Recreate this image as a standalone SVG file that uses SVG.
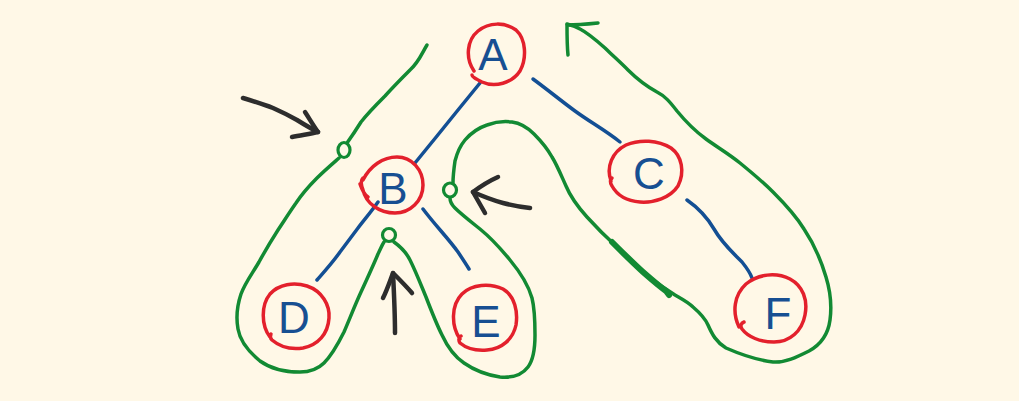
<svg xmlns="http://www.w3.org/2000/svg" width="1019" height="401" viewBox="0 0 1019 401">
<defs>
<style>
.bg{fill:#fff8e7}
.ring{fill:none;stroke:#e3202c;stroke-width:3.5;stroke-linecap:round;stroke-linejoin:round}
.lbl{font-family:"Liberation Sans","DejaVu Sans",sans-serif;font-size:44px;fill:#174f92;text-anchor:middle}
.edge{fill:none;stroke:#134f94;stroke-width:3.5;stroke-linecap:round;stroke-linejoin:round}
.loop{fill:none;stroke:#128a33;stroke-width:3.5;stroke-linecap:round;stroke-linejoin:round}
.thick{fill:none;stroke:#128a33;stroke-width:6;stroke-linecap:round;stroke-linejoin:round}
.dot{fill:none;stroke:#128a33;stroke-width:3.2}
.pointer{fill:none;stroke:#2d2d2d;stroke-width:4.5;stroke-linecap:round;stroke-linejoin:round}
</style>
</defs>
<rect class="bg" x="0" y="0" width="1019" height="401"/>
<g id="connectors">
<path class="edge" d="M480,83 L458,110 L437,136 L415,163"/>
<path class="edge" d="M533,79 C548,90 560,100 575,111 C590,122 605,130 620,142"/>
<path class="edge" d="M687,200 C697,207 707,217 714,229 C722,243 732,252 742,262 C746,267 750,272 752,278"/>
<path class="edge" d="M378,202 C371,212 364,220 358,228 C352,236 346,244 340,252 C333,262 324,272 317,280"/>
<path class="edge" d="M423,209 C429,217 435,224 441,231 C447,238 453,245 458,252 C462,258 466,264 469,269"/>
</g>
<g id="traversal">
<path class="loop" d="M427,45 C422,53 419,62 410,70 C402,78 394,86 385,96 C377,104 368,113 361,122 C356,130 352,136 347,143"/>
<ellipse class="dot" cx="344" cy="150" rx="6" ry="7.5"/>
<path class="loop" d="M339,158 C331,165 324,171 317,178 C309,186 302,194 296,203 C289,213 284,221 278,230 C271,241 265,251 259,262 C252,274 245,283 241,294 C237,306 236,318 238,329 C240,341 249,352 260,361 C271,369 285,372 300,372 C311,372 318,369 324,363 C332,355 338,344 344,332 C350,318 355,305 361,292 C367,279 373,266 378,254 C381,248 382,245 384,242"/>
<ellipse class="dot" cx="389" cy="235" rx="6.5" ry="6.5"/>
<path class="loop" d="M394,242 C401,247 406,252 410,260 C416,272 421,285 426,297 C431,310 436,323 442,335 C448,348 455,357 464,363 C474,370 487,375 500,377 C512,378 522,375 528,367 C534,359 535,348 535,335 C535,322 535,310 532,298 C528,284 520,272 510,260 C501,249 491,238 480,229 C470,221 461,214 455,208 C452,205 450,201 450,198"/>
<ellipse class="dot" cx="450" cy="190" rx="6.5" ry="7"/>
<path class="loop" d="M453,183 C453,175 454,168 455,161 C457,153 460,146 465,140 C471,133 478,128 487,125 C495,122 504,121 512,122 C520,123 527,127 534,134 C541,141 547,148 552,157 C557,165 561,175 566,186 C571,198 578,207 587,217 C596,227 606,237 617,247 C627,257 637,267 648,276 C658,284 667,290 675,295 C682,299 688,302 693,307 C700,313 705,318 708,325 C712,334 716,342 726,348 C742,355 757,360 773,362 C785,363 797,357 809,351 C820,345 828,335 830,320 C832,305 830,290 826,277 C821,260 814,244 804,229 C796,216 785,204 773,192 C762,181 751,172 740,163 C729,154 717,147 706,139 C695,131 686,122 677,111 C670,102 665,96 657,92 C646,86 637,79 628,70 C619,61 612,55 605,48 C596,40 588,33 580,29 C575,26 571,25 567,24"/>
<path class="thick" d="M612,242 C622,252 632,262 643,272 C651,279 659,286 666,291 L669,295"/>
<path class="loop" d="M598,23 C588,24 578,25 567,25 C567,35 567,45 568,55"/>
</g>
<g id="node-A">
<path class="ring" d="M474,71 C465,58 467,40 478,31 C489,22 505,22 516,30 C526,39 527,58 520,71 C512,83 495,88 482,82 C476,79 472,77 472,75"/>
<text class="lbl" x="493" y="70">A</text>
</g>
<g id="node-B">
<path class="ring" d="M363,180 C370,166 383,157 397,157 C412,157 423,170 423,185 C423,201 410,213 395,213 C380,213 366,204 363,190 C361,185 360,181 363,178 M360,184 C362,190 365,195 368,197"/>
<text class="lbl" x="393" y="204">B</text>
</g>
<g id="node-D">
<path class="ring" d="M270,337 C261,325 261,305 270,294 C279,284 294,282 307,286 C322,291 330,305 329,318 C328,334 318,345 303,348 C289,350 279,346 272,340 C270,338 270,336 271,334"/>
<text class="lbl" x="294" y="333">D</text>
</g>
<g id="node-E">
<path class="ring" d="M460,339 C451,326 451,305 462,294 C472,284 490,283 503,289 C515,296 518,312 516,325 C513,339 502,349 487,350 C475,351 466,348 460,343 C458,340 459,337 461,336"/>
<text class="lbl" x="486" y="337">E</text>
</g>
<g id="node-C">
<path class="ring" d="M611,181 C606,167 612,152 626,145 C640,139 658,140 671,148 C682,156 685,172 678,186 C670,198 654,203 640,202 C627,201 617,195 612,186 C610,183 610,180 612,178"/>
<text class="lbl" x="649" y="189">C</text>
</g>
<g id="node-F">
<path class="ring" d="M739,327 C732,312 734,295 746,284 C758,274 776,272 790,279 C803,286 808,300 805,315 C802,331 790,342 774,342 C760,342 748,337 742,329 C740,326 741,323 744,322"/>
<text class="lbl" x="778" y="329">F</text>
</g>
<g id="pointers">
<path class="pointer" d="M243,98 C253,101 263,104 273,108 C282,112 290,116 297,120 C305,125 312,129 318,132"/>
<path class="pointer" d="M292,137 C301,135 310,134 318,132 C313,125 309,118 305,112"/>
<path class="pointer" d="M530,208 C520,207 511,205 503,203 C492,200 482,196 473,192"/>
<path class="pointer" d="M498,177 C489,181 481,186 473,192 C477,199 481,206 485,213"/>
<path class="pointer" d="M395,333 C395,313 394,293 393,273"/>
<path class="pointer" d="M383,298 C387,290 390,281 393,273 C399,279 406,286 412,293"/>
</g>
</svg>
